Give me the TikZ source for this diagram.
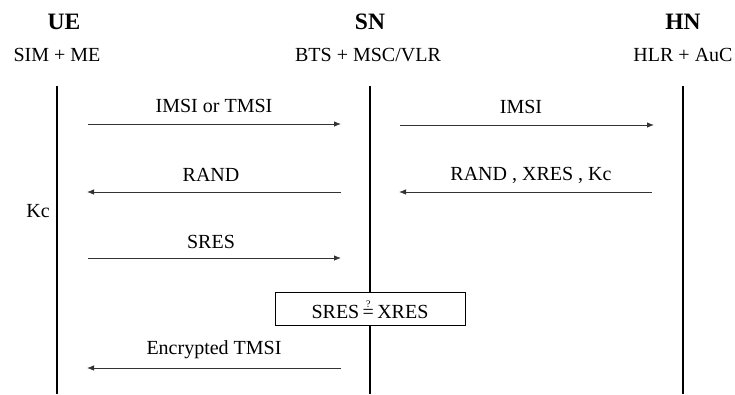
\documentclass[tikz,border=0pt]{standalone}
\usepackage{fontspec}
\setmainfont{Liberation Serif}
\usetikzlibrary{arrows.meta}
\tikzset{
  lifeline/.style={line width=2.6pt},
  msg/.style={line width=0.8pt, draw=black!80, -{Latex[length=7pt,width=5.5pt]}},
  entity/.style={font=\fontsize{23.5}{26}\selectfont\bfseries, inner sep=0pt},
  subtitle/.style={font=\fontsize{20}{23}\selectfont, inner sep=0pt},
  lbl/.style={font=\fontsize{20}{23}\selectfont, inner sep=0pt},
  checkbox/.style={draw, line width=0.8pt, minimum width=190pt, minimum height=33pt, fill=white, font=\fontsize{20}{23}\selectfont}
}
\begin{document}
\begin{tikzpicture}[x=1pt, y=-1pt]
  \useasboundingbox (0,0) rectangle (735,394);

  % entity headings
  \node[entity] (ue) at (64,22) {UE};
  \node[entity] (sn) at (370,22) {SN};
  \node[entity] (hn) at (683,22) {HN};
  \node[subtitle] (uesub) at (57,55) {SIM + ME};
  \node[subtitle] (snsub) at (368,55) {BTS + MSC/VLR};
  \node[subtitle] (hnsub) at (683,55) {HLR + AuC};

  % lifelines
  \coordinate (uetop) at (57,86);  \coordinate (uebot) at (57,394);
  \coordinate (sntop) at (370,86); \coordinate (snbot) at (370,394);
  \coordinate (hntop) at (683,86); \coordinate (hnbot) at (683,394);
  \draw[lifeline] (uetop) -- (uebot);
  \draw[lifeline] (sntop) -- (snbot);
  \draw[lifeline] (hntop) -- (hnbot);

  % message end points
  \coordinate (m1a) at (88,124);  \coordinate (m1b) at (341,124);
  \coordinate (m2a) at (400,125); \coordinate (m2b) at (654,125);
  \coordinate (m3a) at (341,192); \coordinate (m3b) at (87,192);
  \coordinate (m4a) at (652,192); \coordinate (m4b) at (399,192);
  \coordinate (m5a) at (88,258);  \coordinate (m5b) at (341,258);
  \coordinate (m6a) at (341,368); \coordinate (m6b) at (87,368);

  % messages
  \draw[msg] (m1a) -- (m1b);
  \draw[msg] (m2a) -- (m2b);
  \draw[msg] (m3a) -- (m3b);
  \draw[msg] (m4a) -- (m4b);
  \draw[msg] (m5a) -- (m5b);
  \draw[msg] (m6a) -- (m6b);

  % message labels
  \node[lbl] (l1) at (214,106) {IMSI or TMSI};
  \node[lbl] (l2) at (521,107) {IMSI};
  \node[lbl] (l3) at (211,175) {RAND};
  \node[lbl] (l4) at (531,175) {RAND , XRES , Kc};
  \node[lbl] (l5) at (211,242) {SRES};
  \node[lbl] (l6) at (214,350) {Encrypted TMSI};

  % key derived at the UE
  \node[lbl] (kc) at (38,211) {Kc};

  % comparison at the serving network
  \node[checkbox] (cmp) at (370,309)
    {SRES\,$\stackrel{\mbox{\fontsize{10}{10}\selectfont ?}}{\mbox{=}}$\,XRES};
\end{tikzpicture}
\end{document}
